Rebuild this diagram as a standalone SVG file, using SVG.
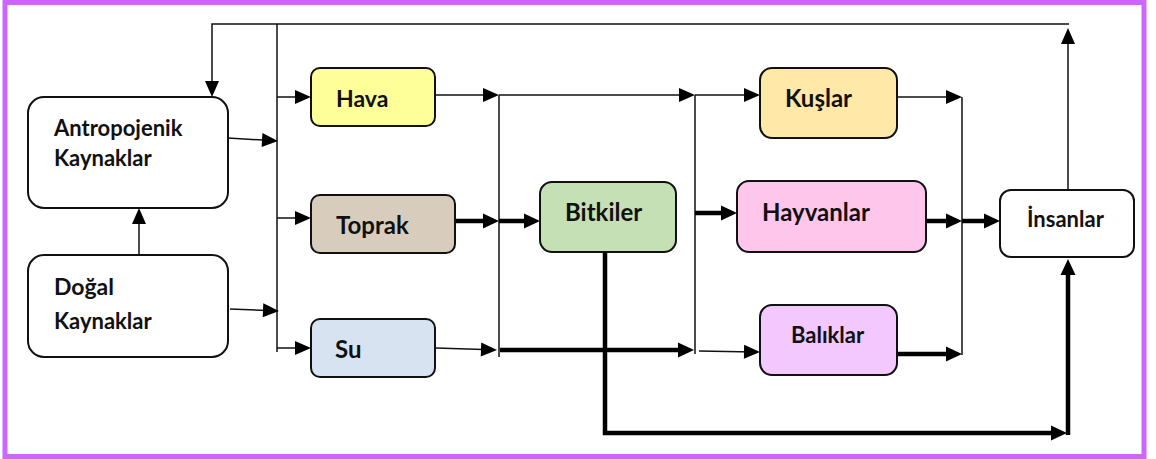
<svg xmlns="http://www.w3.org/2000/svg" width="1156" height="459" viewBox="0 0 1156 459">
  <style>
    .frame { fill: #ffffff; stroke: #cc66ff; stroke-width: 5; }
    .box { stroke: #111111; stroke-width: 2; }
    .lbl { font-family: Lato, "Liberation Sans", sans-serif; font-weight: 700; font-size: 22px; fill: #111111; }
    .lg { font-size: 24px; }
    .md { font-size: 23px; }
    .c1 { fill: none; stroke: #111111; stroke-width: 1.5; }
    .c2 { fill: none; stroke: #000000; stroke-width: 4.5; }
    .a1 { marker-end: url(#aThin); }
    .a2 { marker-end: url(#aThick); }
  </style>
  <defs>
    <!-- arrowhead tip sits 6px beyond the path end -->
    <marker id="aThin" markerUnits="userSpaceOnUse" markerWidth="16" markerHeight="14" refX="10" refY="7" orient="auto" overflow="visible">
      <path d="M0,0 L16,7 L0,14 Z" fill="#000000"/>
    </marker>
    <marker id="aThick" markerUnits="userSpaceOnUse" markerWidth="16" markerHeight="15" refX="10" refY="7.5" orient="auto" overflow="visible">
      <path d="M0,0 L16,7.5 L0,15 Z" fill="#000000"/>
    </marker>
  </defs>

  <rect class="frame" x="5" y="2.5" width="1139" height="454"/>

  <!-- connectors -->
  <g id="connectors">
    <!-- feedback loop from İnsanlar back to Antropojenik -->
    <path class="c1 a1" d="M1069,24 H212 V91"/>
    <path class="c1 a1" d="M1068,190 V34"/>
    <!-- source bus -->
    <path class="c1" d="M277,24 V352"/>
    <path class="c1 a1" d="M228,138 L272,140.6"/>
    <path class="c1 a1" d="M230,309 L273,310.7"/>
    <path class="c1 a1" d="M139,255 V214"/>
    <path class="c1 a1" d="M277,97 H305"/>
    <path class="c1 a1" d="M277,218 H305"/>
    <path class="c1 a1" d="M277,348 H305"/>
    <!-- abiotic to first bus -->
    <path class="c1 a1" d="M435,95 H493"/>
    <path class="c2 a2" d="M455,221 H493"/>
    <path class="c1 a1" d="M436,348 L491,349.8"/>
    <path class="c1" d="M499,95 V357"/>
    <!-- first bus onward -->
    <path class="c1 a1" d="M499,95 H689"/>
    <path class="c2 a2" d="M499,221 H534"/>
    <path class="c2 a2" d="M500,350 H688"/>
    <path class="c1" d="M695,95 V354"/>
    <!-- second bus to consumers -->
    <path class="c1 a1" d="M695,95 H754"/>
    <path class="c2 a2" d="M695,213 H731"/>
    <path class="c1 a1" d="M699,351 L754,351.9"/>
    <!-- consumers to third bus -->
    <path class="c1 a1" d="M897,97 H956"/>
    <path class="c2 a2" d="M926,221 H956"/>
    <path class="c2 a2" d="M897,354 H956"/>
    <path class="c1" d="M962,97 V355"/>
    <path class="c2 a2" d="M962,221 H994"/>
    <!-- Bitkiler straight to İnsanlar -->
    <path class="c2 a2" d="M605,251 V433 H1061"/>
    <path class="c2 a2" d="M1068,435 V265"/>
  </g>

  <g id="antropojenik">
    <rect class="box" x="28" y="97" width="200" height="111" rx="16" fill="#ffffff"/>
    <text class="lbl" x="54" y="136">Antropojenik</text>
    <text class="lbl" x="54" y="166">Kaynaklar</text>
  </g>
  <g id="dogal">
    <rect class="box" x="28" y="255" width="200" height="102" rx="16" fill="#ffffff"/>
    <text class="lbl md" x="54" y="295">Doğal</text>
    <text class="lbl" x="54" y="329">Kaynaklar</text>
  </g>
  <g id="hava">
    <rect class="box" x="311" y="68" width="124" height="58" rx="9" fill="#ffff99"/>
    <text class="lbl md" x="336" y="107">Hava</text>
  </g>
  <g id="toprak">
    <rect class="box" x="311" y="195" width="144" height="58" rx="9" fill="#d8cdbd"/>
    <text class="lbl lg" x="336" y="234">Toprak</text>
  </g>
  <g id="su">
    <rect class="box" x="311" y="319" width="124" height="58" rx="9" fill="#d7e3f0"/>
    <text class="lbl lg" x="335" y="358">Su</text>
  </g>
  <g id="bitkiler">
    <rect class="box" x="540" y="182" width="136" height="70" rx="12" fill="#c5e0b4"/>
    <text class="lbl lg" x="565" y="221">Bitkiler</text>
  </g>
  <g id="kuslar">
    <rect class="box" x="760" y="68" width="137" height="70" rx="12" fill="#ffe8a8"/>
    <text class="lbl lg" x="785" y="107">Kuşlar</text>
  </g>
  <g id="hayvanlar">
    <rect class="box" x="737" y="181" width="189" height="71" rx="12" fill="#ffc6ec"/>
    <text class="lbl lg" x="762" y="221">Hayvanlar</text>
  </g>
  <g id="baliklar">
    <rect class="box" x="760" y="305" width="137" height="70" rx="12" fill="#f3c8ff"/>
    <text class="lbl" x="791" y="343">Balıklar</text>
  </g>
  <g id="insanlar">
    <rect class="box" x="1000" y="190" width="134" height="67" rx="11" fill="#ffffff"/>
    <text class="lbl" x="1027" y="227">İnsanlar</text>
  </g>
</svg>
